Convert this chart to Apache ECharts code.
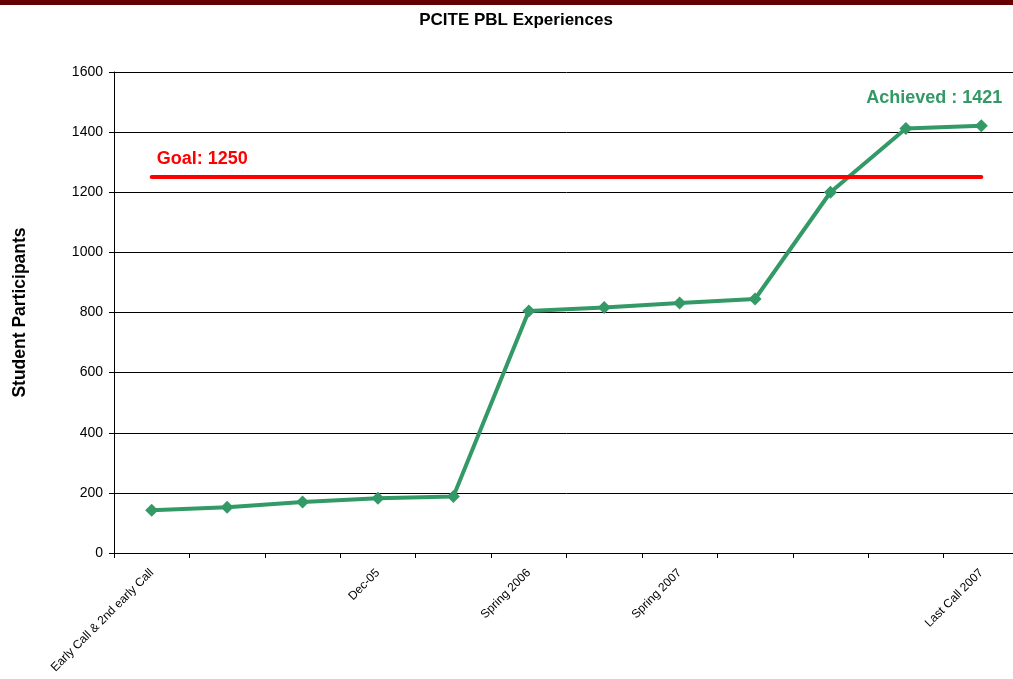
<!DOCTYPE html>
<html>
<head>
<meta charset="utf-8">
<script src="https://cdn.jsdelivr.net/npm/echarts@6/dist/echarts.min.js"></script>
<style>
  html, body { margin: 0; padding: 0; background: #fff; overflow: hidden; }
  #topbar { position: absolute; left: 0; top: 0; width: 1013px; height: 5px; background: #660000; }
  /* plot area runs slightly past the right window edge */
  #chart { width: 1019px; height: 679px; }
</style>
</head>
<body>
<div id="chart"></div>
<div id="topbar"></div>
<script>
// Enrollment milestones (unlabelled periods keep an empty name)
const periods = ["Early Call & 2nd early Call", "", "", "Dec-05", "", "Spring 2006", "", "Spring 2007", "", "", "", "Last Call 2007"];
const participants = [142, 152, 170, 182, 188, 805, 817, 832, 845, 1200, 1412, 1421];
const goal = 1250;
const yTicks = [0, 200, 400, 600, 800, 1000, 1200, 1400, 1600];

const green = '#339966';
const font = 'Liberation Sans, Arial, sans-serif';
const chart = echarts.init(document.getElementById('chart'));
const last = participants.length - 1;

chart.setOption({
  animation: false,
  title: {
    text: 'PCITE PBL Experiences',
    left: 511, top: 7, textAlign: 'center',
    textStyle: { fontFamily: font, fontSize: 17, fontWeight: 'bold', color: '#000' }
  },
  grid: { left: 114, top: 72, right: 0, height: 481, containLabel: false },
  xAxis: {
    type: 'category',
    data: periods,
    boundaryGap: true,
    axisLine: { lineStyle: { color: '#000', width: 1 } },
    axisTick: { show: true, length: 5, inside: false, interval: 0, lineStyle: { color: '#000' } },
    axisLabel: {
      interval: 0, rotate: 45, margin: 18,
      fontFamily: font, fontSize: 12, color: '#000'
    },
    splitLine: { show: false }
  },
  yAxis: {
    type: 'value',
    min: yTicks[0], max: yTicks[yTicks.length - 1], interval: yTicks[1] - yTicks[0],
    name: 'Student Participants',
    nameLocation: 'middle', nameGap: 85, nameRotate: 90,
    nameTextStyle: { fontFamily: font, fontSize: 17.5, fontWeight: 'bold', color: '#000' },
    axisLine: { show: true, lineStyle: { color: '#000', width: 1 } },
    axisTick: { show: true, length: 5, lineStyle: { color: '#000' } },
    axisLabel: {
      fontFamily: font, fontSize: 14, color: '#000', margin: 11,
      formatter: v => String(v)
    },
    splitLine: { show: true, lineStyle: { color: '#000', width: 1 } }
  },
  series: [{
    type: 'line',
    data: participants.map((v, i) => i === last ? {
      value: v,
      label: {
        show: true, position: 'top', offset: [-47, -7],
        formatter: 'Achieved : {c}',
        fontFamily: font, fontSize: 18, fontWeight: 'bold', color: green
      }
    } : v),
    symbol: 'diamond',
    symbolSize: 13,
    lineStyle: { color: green, width: 4 },
    itemStyle: { color: green },
    z: 3,
    markLine: {
      silent: true,
      symbol: 'none',
      lineStyle: { color: '#ff0000', width: 4, type: 'solid', cap: 'round' },
      label: {
        show: true, position: 'insideStartTop', distance: [5, 9],
        formatter: 'Goal: ' + goal,
        fontFamily: font, fontSize: 18, fontWeight: 'bold', color: '#ff0000'
      },
      data: [[{ coord: [0, goal] }, { coord: [last, goal] }]]
    }
  }]
});
</script>
</body>
</html>
